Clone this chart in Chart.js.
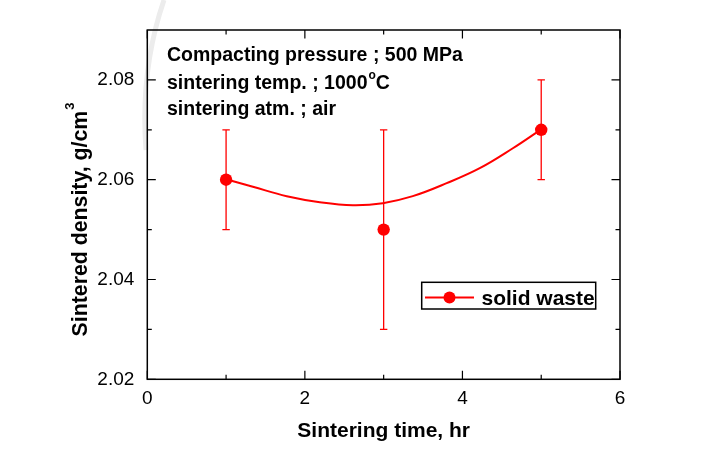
<!DOCTYPE html>
<html>
<head>
<meta charset="utf-8">
<script src="https://cdn.jsdelivr.net/npm/chart.js@4.4.1/dist/chart.umd.min.js"></script>
<style>
  body { margin: 0; background: #fff; }
  canvas { display: block; }
</style>
</head>
<body>
<canvas id="density-chart" width="712" height="452"></canvas>
<script>
// measured points (sintering time, hr -> sintered density, g/cm3)
const times = [1, 3, 5];
const densities = [2.060, 2.050, 2.070];
const errLow = [2.050, 2.030, 2.060];
const errHigh = [2.070, 2.070, 2.080];

// fitted curve
const fitTimes = [1.0, 1.34, 1.77, 2.19, 2.61, 2.99, 3.37, 3.80, 4.22, 4.64, 5.0];
const fitDensities = [2.0601, 2.0586, 2.0567, 2.0555, 2.0549, 2.0553, 2.0567, 2.0593, 2.0623, 2.0663, 2.0701];

const xTicks = [0, 2, 4, 6];
const xMinor = [1, 3, 5];
const yTicks = [2.02, 2.04, 2.06, 2.08];
const yMinor = [2.03, 2.05, 2.07];

const notes = ['Compacting pressure ; 500 MPa', 'sintering temp. ; 1000', 'sintering atm. ; air'];

const RED = '#ff0000';
const FONT = 'Arial, "Liberation Sans", sans-serif';

const decorations = {
    id: 'decorations',
    beforeDraw(chart) {
        const c = chart.ctx;
        // faint scan artifact arc top-left
        c.save();
        c.strokeStyle = '#ececec';
        c.lineWidth = 5;
        c.beginPath();
        c.moveTo(164, 0);
        c.quadraticCurveTo(140, 70, 146, 150);
        c.stroke();
        c.restore();
    },
    afterDatasetsDraw(chart) {
        const c = chart.ctx;
        const xs = chart.scales.x, ys = chart.scales.y;

        // error bars
        c.save();
        c.strokeStyle = RED;
        c.lineWidth = 1.3;
        times.forEach((t, i) => {
            const px = xs.getPixelForValue(t);
            const top = ys.getPixelForValue(errHigh[i]);
            const bot = ys.getPixelForValue(errLow[i]);
            c.beginPath();
            c.moveTo(px, top); c.lineTo(px, bot);
            c.moveTo(px - 3.7, top); c.lineTo(px + 3.7, top);
            c.moveTo(px - 3.7, bot); c.lineTo(px + 3.7, bot);
            c.stroke();
        });
        c.restore();
    },
    afterDraw(chart) {
        const c = chart.ctx;
        const xs = chart.scales.x, ys = chart.scales.y;
        const a = chart.chartArea;

        // frame and inward ticks on all four sides
        c.save();
        c.strokeStyle = '#000';
        c.lineWidth = 1.5;
        c.strokeRect(a.left, a.top, a.right - a.left, a.bottom - a.top);
        c.lineWidth = 1.2;
        c.beginPath();
        const xt = (v, len) => {
            const p = xs.getPixelForValue(v);
            c.moveTo(p, a.bottom); c.lineTo(p, a.bottom - len);
            c.moveTo(p, a.top); c.lineTo(p, a.top + len);
        };
        const yt = (v, len) => {
            const p = ys.getPixelForValue(v);
            c.moveTo(a.left, p); c.lineTo(a.left + len, p);
            c.moveTo(a.right, p); c.lineTo(a.right - len, p);
        };
        xTicks.forEach(v => xt(v, 8.5));
        xMinor.forEach(v => xt(v, 4.5));
        yTicks.forEach(v => yt(v, 8.5));
        yMinor.forEach(v => yt(v, 4.5));
        c.stroke();

        // axis titles
        c.fillStyle = '#000';
        c.font = 'bold 21px ' + FONT;
        c.textAlign = 'center';
        c.textBaseline = 'alphabetic';
        c.fillText('Sintering time, hr', (a.left + a.right) / 2, 437);

        c.save();
        c.translate(87, 220);
        c.rotate(-Math.PI / 2);
        const main = 'Sintered density, g/cm';
        c.font = 'bold 21.3px ' + FONT;
        const wMain = c.measureText(main).width;
        c.font = 'bold 13px ' + FONT;
        const wSup = c.measureText('3').width;
        const x0 = -(wMain + wSup) / 2;
        c.textAlign = 'left';
        c.font = 'bold 21.3px ' + FONT;
        c.fillText(main, x0, 0);
        c.font = 'bold 13px ' + FONT;
        c.fillText('3', x0 + wMain + 1, -13);
        c.restore();

        // annotation text
        c.textAlign = 'left';
        c.font = 'bold 19.5px ' + FONT;
        const nx = 167;
        const base = [61, 89, 115];
        notes.forEach((t, i) => c.fillText(t, nx, base[i]));
        const w = c.measureText(notes[1]).width;
        c.font = 'bold 12px ' + FONT;
        c.fillText('o', nx + w + 1, base[1] - 10);
        const wo = c.measureText('o').width;
        c.font = 'bold 19.5px ' + FONT;
        c.fillText('C', nx + w + wo + 1, base[1]);

        // legend box
        const ds = chart.data.datasets[1];
        c.lineWidth = 1.5;
        c.strokeStyle = '#000';
        c.strokeRect(421.7, 282.3, 174, 26.7);
        c.strokeStyle = RED;
        c.lineWidth = 2;
        c.beginPath();
        c.moveTo(425, 297.5); c.lineTo(474, 297.5);
        c.stroke();
        c.fillStyle = RED;
        c.beginPath();
        c.arc(449.5, 297.5, 6, 0, Math.PI * 2);
        c.fill();
        c.fillStyle = '#000';
        c.font = 'bold 21px ' + FONT;
        c.fillText(ds.label, 481.5, 304.5);
        c.restore();
    }
};

new Chart(document.getElementById('density-chart'), {
    type: 'scatter',
    data: {
        datasets: [{
            label: 'fit',
            data: fitTimes.map((t, i) => ({ x: t, y: fitDensities[i] })),
            showLine: true,
            borderColor: RED,
            borderWidth: 2,
            pointRadius: 0,
            tension: 0.4
        }, {
            label: 'solid waste',
            data: times.map((t, i) => ({ x: t, y: densities[i] })),
            showLine: false,
            pointRadius: 6.2,
            pointBackgroundColor: RED,
            pointBorderColor: RED,
            pointBorderWidth: 0
        }]
    },
    options: {
        responsive: false,
        animation: false,
        layout: { padding: { top: 30, right: 92, left: 0, bottom: 0 } },
        plugins: { legend: { display: false }, tooltip: { enabled: false } },
        scales: {
            x: {
                type: 'linear',
                min: 0, max: 6,
                grid: { display: false },
                border: { display: false },
                afterBuildTicks: s => { s.ticks = xTicks.map(v => ({ value: v })); },
                afterFit: s => { s.height = 72.7; },
                ticks: {
                    color: '#000',
                    padding: 0,
                    maxRotation: 0,
                    font: { family: FONT, size: 19 },
                    callback: v => String(v)
                }
            },
            y: {
                type: 'linear',
                min: 2.02, max: 2.09,
                grid: { display: false },
                border: { display: false },
                afterBuildTicks: s => { s.ticks = yTicks.map(v => ({ value: v })); },
                afterFit: s => { s.width = 147.3; },
                ticks: {
                    color: '#000',
                    padding: 5,
                    font: { family: FONT, size: 19 },
                    callback: v => v.toFixed(2)
                }
            }
        }
    },
    plugins: [decorations]
});
</script>
</body>
</html>
